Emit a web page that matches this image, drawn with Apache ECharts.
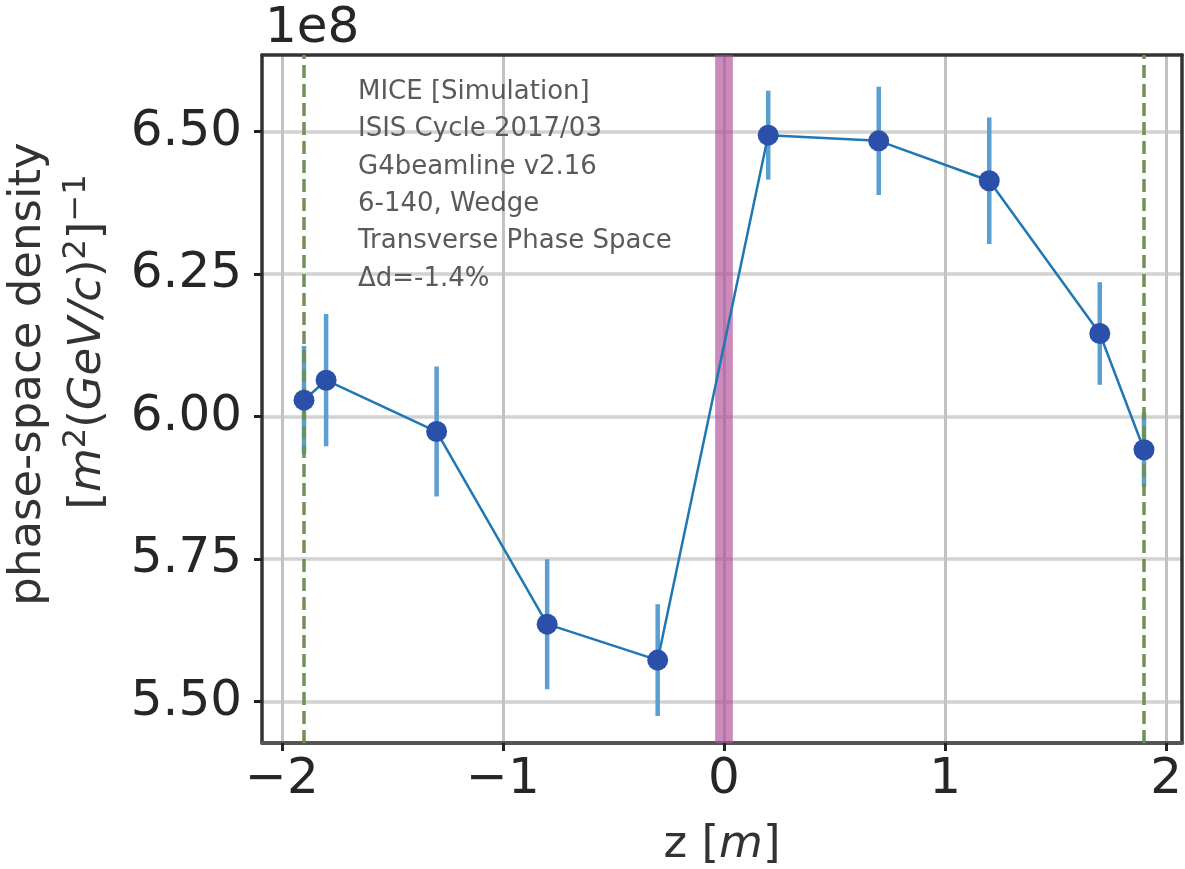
<!DOCTYPE html>
<html>
<head>
<meta charset="utf-8">
<title>Phase-space density along z</title>
<script src="https://cdn.jsdelivr.net/npm/echarts@6/dist/echarts.min.js"></script>
<style>
  html, body { margin: 0; padding: 0; background: #ffffff; }
  #chart { width: 1185px; height: 869px; }
</style>
</head>
<body>
<div id="chart"></div>
<script>
// Station positions along the beamline [m]
const zPositions = [-1.9, -1.8, -1.3, -0.8, -0.3, 0.2, 0.7, 1.2, 1.7, 1.9];
// Transverse phase-space density, in units of 1e8 [m^2 (GeV/c)^2]^-1
const density = [6.029, 6.064, 5.974, 5.636, 5.573, 6.494, 6.484, 6.414, 6.146, 5.942];
// Symmetric uncertainty on each density value (same units)
const densityErr = [0.095, 0.116, 0.114, 0.114, 0.098, 0.078, 0.095, 0.111, 0.090, 0.065];

// Axis ticks
const xTicks = [-2, -1, 0, 1, 2];
const yTicks = [5.5, 5.75, 6.0, 6.25, 6.5];
const xRange = [-2.09, 2.073];
const yRange = [5.4275, 6.6346];

// Tracker reference planes and absorber (wedge) location
const trackerPlanes = [-1.9, 1.9];
const absorberSpan = [-0.04, 0.04];

const annotationLines = [
  'MICE [Simulation]',
  'ISIS Cycle 2017/03',
  'G4beamline v2.16',
  '6-140, Wedge',
  'Transverse Phase Space',
  '\u0394d=-1.4%'
];
const offsetText = '1e8';

const FONT = 'DejaVu Sans';
const points = zPositions.map((z, i) => [z, density[i]]);
const bars = zPositions.map((z, i) => [z, density[i] - densityErr[i], density[i] + densityErr[i]]);

const chart = echarts.init(document.getElementById('chart'), null, { renderer: 'canvas' });

const minusSign = v => String(v).replace('-', '\u2212');

const option = {
  animation: false,
  backgroundColor: '#ffffff',
  grid: { left: 262, top: 55, width: 921, height: 688, containLabel: false },
  xAxis: [
    {
      type: 'value',
      min: xRange[0],
      max: xRange[1],
      position: 'bottom',
      axisLine: { show: true, onZero: false, lineStyle: { color: '#555555', width: 4 } },
      axisTick: { show: true, customValues: xTicks, length: 8, lineStyle: { color: '#222222', width: 3 } },
      axisLabel: {
        show: true,
        customValues: xTicks,
        formatter: v => minusSign(Math.round(v)),
        fontFamily: FONT, fontSize: 50, color: '#262626', margin: 12
      },
      splitLine: { show: true, lineStyle: { color: '#c2c2c2', width: 3 } }
    },
    {
      type: 'value',
      min: xRange[0],
      max: xRange[1],
      position: 'top',
      axisLine: { show: true, onZero: false, lineStyle: { color: '#333333', width: 3.5 } },
      axisTick: { show: false },
      axisLabel: { show: false },
      splitLine: { show: false }
    }
  ],
  yAxis: [
    {
      type: 'value',
      min: yRange[0],
      max: yRange[1],
      position: 'left',
      axisLine: { show: true, onZero: false, lineStyle: { color: '#333333', width: 3.5 } },
      axisTick: { show: true, customValues: yTicks, length: 8, lineStyle: { color: '#222222', width: 3 } },
      axisLabel: {
        show: true,
        customValues: yTicks,
        formatter: v => v.toFixed(2),
        fontFamily: FONT, fontSize: 50, color: '#262626', margin: 20
      },
      splitLine: { show: true, lineStyle: { color: '#d2d2d2', width: 3.5 } }
    },
    {
      type: 'value',
      min: yRange[0],
      max: yRange[1],
      position: 'right',
      axisLine: { show: true, onZero: false, lineStyle: { color: '#333333', width: 3.5 } },
      axisTick: { show: false },
      axisLabel: { show: false },
      splitLine: { show: false }
    }
  ],
  series: [
    {
      // absorber band and tracker reference planes
      type: 'line',
      xAxisIndex: 0, yAxisIndex: 0,
      data: [],
      silent: true,
      z: 1,
      markArea: {
        silent: true,
        itemStyle: { color: 'rgba(176, 78, 154, 0.66)' },
        data: [[{ xAxis: absorberSpan[0] }, { xAxis: absorberSpan[1] }]]
      },
      markLine: {
        silent: true,
        symbol: ['none', 'none'],
        label: { show: false },
        lineStyle: { color: '#6f8f53', width: 3.5, type: [13, 6] },
        data: trackerPlanes.map(z => ({ xAxis: z }))
      }
    },
    {
      // vertical error bars
      type: 'custom',
      xAxisIndex: 0, yAxisIndex: 0,
      data: bars,
      encode: { x: 0, y: [1, 2] },
      z: 3,
      silent: true,
      renderItem: (params, api) => {
        const x = api.value(0);
        const lo = api.coord([x, api.value(1)]);
        const hi = api.coord([x, api.value(2)]);
        return {
          type: 'line',
          shape: { x1: lo[0], y1: lo[1], x2: hi[0], y2: hi[1] },
          style: { stroke: '#5a9fd0', lineWidth: 4.5 }
        };
      }
    },
    {
      // connecting line
      type: 'line',
      xAxisIndex: 0, yAxisIndex: 0,
      data: points,
      showSymbol: false,
      symbol: 'none',
      z: 4,
      lineStyle: { color: '#1f77b4', width: 2.5 }
    },
    {
      // measured points
      type: 'scatter',
      xAxisIndex: 0, yAxisIndex: 0,
      data: points,
      symbol: 'circle',
      symbolSize: 21,
      z: 5,
      itemStyle: { color: '#2a50aa', opacity: 1 }
    }
  ],
  graphic: [
    {
      type: 'text', left: 265, top: 4, z: 10,
      style: { text: offsetText, font: '50px "DejaVu Sans"', fill: '#262626' }
    },
    ...annotationLines.map((line, i) => ({
      type: 'text', x: 358, y: 92 + i * 37.4, z: 10,
      style: {
        text: line, fontFamily: FONT, fontSize: 26, fill: '#5a5a5a',
        align: 'left', verticalAlign: 'middle'
      }
    })),
    {
      type: 'text', x: 28, y: 374, rotation: Math.PI / 2, z: 10,
      style: {
        text: 'phase-space density', fontFamily: FONT, fontSize: 45, fill: '#333333',
        align: 'center', verticalAlign: 'middle'
      }
    },
    {
      type: 'text', x: 88, y: 342, rotation: Math.PI / 2, z: 10,
      style: {
        text: '{n|[}{i|m}{s|2}{n|(}{i|GeV/c}{n|)}{s|2}{n|]}{s|\u22121}',
        fontFamily: FONT, fontSize: 45, fill: '#333333',
        align: 'center', verticalAlign: 'middle',
        rich: {
          n: { fontFamily: FONT, fontSize: 45, fontStyle: 'normal', fill: '#333333', lineHeight: 54 },
          i: { fontFamily: FONT, fontSize: 45, fontStyle: 'italic', fill: '#333333', lineHeight: 54 },
          s: { fontFamily: FONT, fontSize: 32, fill: '#333333', verticalAlign: 'top', lineHeight: 54 }
        }
      }
    },
    {
      type: 'text', x: 722, y: 845, z: 10,
      style: {
        text: '{n|z [}{i|m}{n|]}', fontFamily: FONT, fontSize: 45, fill: '#333333',
        align: 'center', verticalAlign: 'middle',
        rich: {
          n: { fontFamily: FONT, fontSize: 45, fontStyle: 'normal', fill: '#333333' },
          i: { fontFamily: FONT, fontSize: 45, fontStyle: 'italic', fill: '#333333' }
        }
      }
    }
  ]
};

chart.setOption(option);
</script>
</body>
</html>
